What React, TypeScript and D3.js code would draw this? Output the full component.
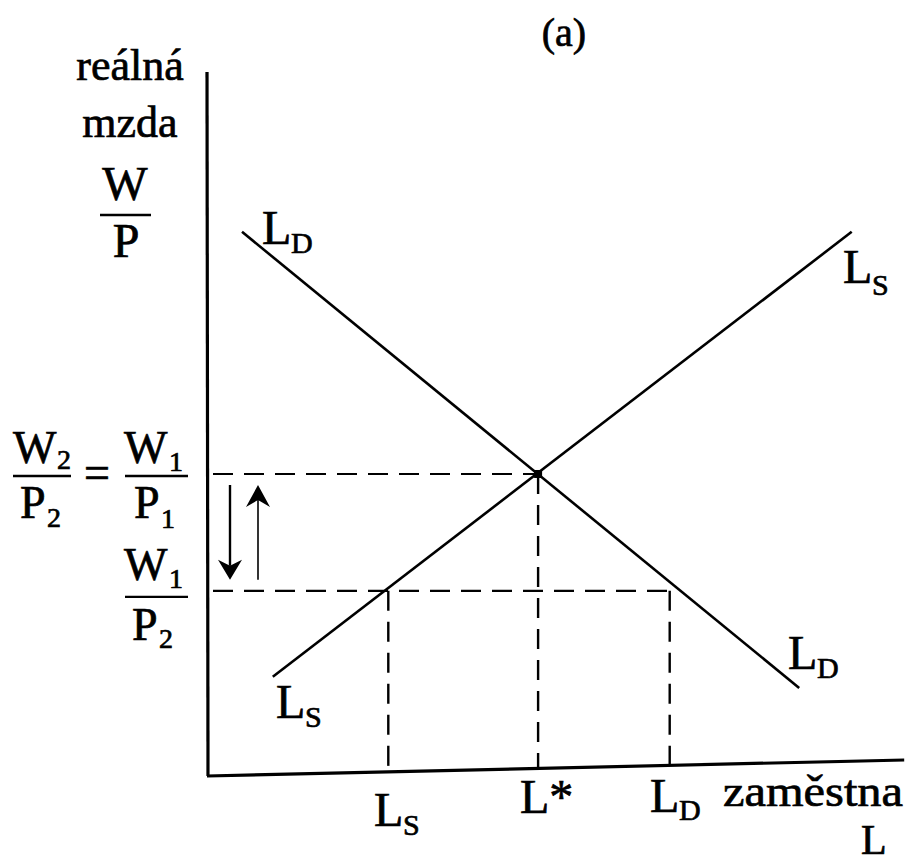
import React from "react";
import * as d3 from "d3";

// ---- data (abstract units: labour L on x, real wage W/P on y) ----
const laborDemandPts = [
  { L: 5, w: 77.3 },
  { L: 84.6, w: 12.5 },
];
const laborSupplyPts = [
  { L: 9.4, w: 14.1 },
  { L: 92.1, w: 77.3 },
];
const equilibrium = { L: 47.3, w: 42.9 };
const lowWage = 26.3; // W1/P2
const supplyAtLowWage = 25.9; // L_S
const demandAtLowWage = 66.1; // L_D
const xDomain = [0, 100];
const yDomain = [0, 100];

const W = 910;
const H = 864;
const FONT = "'Liberation Serif', 'Times New Roman', serif";
const AXIS_TILT = 16; // px drop of the hand-drawn x axis across its length

export default function App() {
  const x = d3.scaleLinear().domain(xDomain).range([207, 907]);
  const y = d3.scaleLinear().domain(yDomain).range([776, 72]);
  const line = d3
    .line<{ L: number; w: number }>()
    .x((d) => x(d.L))
    .y((d) => y(d.w));

  const xAxisEnd = 99.6;
  const axisYAt = (L: number) =>
    y(0) - (AXIS_TILT * (x(L) - x(0))) / (x(xAxisEnd) - x(0));

  const dash = "20 11";
  const eqX = x(equilibrium.L);
  const eqY = y(equilibrium.w);
  const lowY = y(lowWage);

  const arrowTop = eqY + 11;
  const arrowBot = lowY - 11;
  const downX = x(0) + 23;
  const upX = x(0) + 51;

  const t = (
    s: string,
    px: number,
    py: number,
    size: number,
    anchor: "start" | "middle" | "end" = "start",
    extra: any = {}
  ) => (
    <text
      x={px}
      y={py}
      fontSize={size}
      fontFamily={FONT}
      textAnchor={anchor}
      fill="#000"
      stroke="#000"
      strokeWidth={0.7}
      {...extra}
    >
      {s}
    </text>
  );

  const sub = (main: string, s: string, px: number, py: number, mainSize = 48, subSize = 30, dx = 29, dy = 9) => (
    <g>
      {t(main, px, py, mainSize)}
      {t(s, px + dx, py + dy, subSize)}
    </g>
  );

  return (
    <svg
      width={W}
      height={H}
      style={{ position: "absolute", left: 0, top: 0, display: "block", background: "#fff" }}
    >
      <rect x={0} y={0} width={W} height={H} fill="#fff" />

      {/* title */}
      {t("(a)", 564, 46, 40, "middle")}

      {/* axes */}
      <line x1={x(0)} y1={y(yDomain[1])} x2={x(0) + 1} y2={y(0)} stroke="#000" strokeWidth={3.2} />
      <line x1={x(0)} y1={y(0)} x2={x(xAxisEnd)} y2={axisYAt(xAxisEnd)} stroke="#000" strokeWidth={3.2} />

      {/* dashed guides */}
      <line x1={x(0) + 6} y1={eqY} x2={eqX} y2={eqY} stroke="#000" strokeWidth={2.2} strokeDasharray={dash} />
      <line x1={x(0) + 6} y1={lowY} x2={x(demandAtLowWage)} y2={lowY} stroke="#000" strokeWidth={2.2} strokeDasharray={dash} />
      <line x1={eqX} y1={eqY} x2={eqX} y2={axisYAt(equilibrium.L)} stroke="#000" strokeWidth={2.4} strokeDasharray={dash} />
      <line x1={x(supplyAtLowWage)} y1={lowY} x2={x(supplyAtLowWage)} y2={axisYAt(supplyAtLowWage)} stroke="#000" strokeWidth={2.4} strokeDasharray={dash} />
      <line x1={x(demandAtLowWage)} y1={lowY} x2={x(demandAtLowWage)} y2={axisYAt(demandAtLowWage)} stroke="#000" strokeWidth={2.4} strokeDasharray={dash} />

      {/* curves */}
      <path d={line(laborDemandPts) || ""} fill="none" stroke="#000" strokeWidth={2.6} />
      <path d={line(laborSupplyPts) || ""} fill="none" stroke="#000" strokeWidth={2.6} />
      <rect x={eqX - 4} y={eqY - 4} width={8} height={8} fill="#000" />

      {/* arrows */}
      <line x1={downX} y1={arrowTop} x2={downX} y2={arrowBot - 14} stroke="#000" strokeWidth={2.4} />
      <polygon
        points={`${downX - 12},${arrowBot - 20} ${downX},${arrowBot - 14} ${downX + 12},${arrowBot - 20} ${downX},${arrowBot}`}
        fill="#000"
      />
      <line x1={upX} y1={arrowBot} x2={upX} y2={arrowTop + 14} stroke="#000" strokeWidth={1.6} />
      <polygon
        points={`${upX - 12},${arrowTop + 22} ${upX},${arrowTop + 15} ${upX + 12},${arrowTop + 22} ${upX},${arrowTop}`}
        fill="#000"
      />

      {/* y axis title */}
      {t("reálná", 130, 80, 44, "middle")}
      {t("mzda", 130, 137, 44, "middle")}
      {t("W", 125, 200, 48, "middle")}
      <line x1={100} y1={215} x2={151} y2={215} stroke="#000" strokeWidth={2.4} />
      {t("P", 126, 257, 48, "middle")}

      {/* left wage labels */}
      {sub("W", "2", 13, 463, 46, 28, 44, 6)}
      <line x1={13} y1={eqY + 2} x2={71} y2={eqY + 2} stroke="#000" strokeWidth={2.4} />
      {sub("P", "2", 20, 518, 46, 28, 27, 9)}
      {t("=", 97, 488, 46, "middle")}
      {sub("W", "1", 124, 463, 46, 28, 45, 8)}
      <line x1={125} y1={eqY + 2} x2={188} y2={eqY + 2} stroke="#000" strokeWidth={2.4} />
      {sub("P", "1", 134, 518, 46, 28, 27, 10)}

      {sub("W", "1", 124, 580, 46, 28, 45, 8)}
      <line x1={125} y1={lowY + 6} x2={188} y2={lowY + 6} stroke="#000" strokeWidth={2.4} />
      {sub("P", "2", 132, 640, 46, 28, 27, 8)}

      {/* curve labels */}
      {sub("L", "D", 262, 244)}
      {sub("L", "S", 843, 283, 48, 30, 29, 12)}
      {sub("L", "S", 276, 718, 48, 30, 29, 9)}
      {sub("L", "D", 788, 669)}

      {/* x labels */}
      {sub("L", "S", 374, 826, 48, 30, 29, 9)}
      {t("L*", 520, 813, 48)}
      {sub("L", "D", 650, 812, 48, 30, 29, 8)}
      {t("zaměstna", 723, 806, 44, "start", { textLength: 180, lengthAdjust: "spacingAndGlyphs" })}
      {t("L", 861, 854, 42)}
    </svg>
  );
}
